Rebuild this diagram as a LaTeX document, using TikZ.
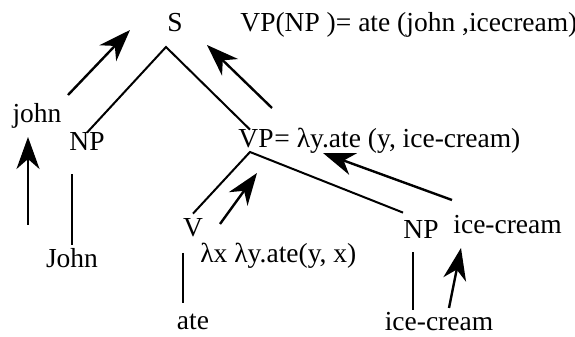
\documentclass[tikz,border=0pt]{standalone}
\usepackage{fontspec}
\setmainfont{Liberation Serif}
\usetikzlibrary{arrows.meta}

\begin{document}
\begin{tikzpicture}[
  x=0.5pt, y=-0.5pt,
  lbl/.style = {inner sep=0pt, font=\rmfamily\fontsize{13.75}{16}\selectfont},
  br/.style  = {draw=black, line width=1pt},
  up/.style  = {draw=black, line width=1.2pt,
                -{Stealth[length=16pt, width=11.5pt, inset=5pt]}},
]
\useasboundingbox (0,0) rectangle (575,337);

% tree labels
\node[lbl, anchor=base]      (S)     at (175,32)  {S};
\node[lbl, anchor=base west] (VPNP)  at (240,32)  {VP(NP )= ate (john ,icecream)};
\node[lbl, anchor=base]      (john)  at (37,122)  {john};
\node[lbl, anchor=base]      (NPj)   at (87,151)  {NP};
\node[lbl, anchor=base]      (VP)    at (256,148) {VP};
\node[lbl, anchor=base west] (VPsem) at (VP.base east) {= λy.ate (y, ice-cream)};
\node[lbl, anchor=base]      (John)  at (72,268)  {John};
\node[lbl, anchor=base]      (V)     at (193,236) {V};
\node[lbl, anchor=base west] (Vsem)  at (200,263) {λx λy.ate(y, x)};
\node[lbl, anchor=base]      (ate)   at (193,329) {ate};
\node[lbl, anchor=base]      (NPi)   at (421,239) {NP};
\node[lbl, anchor=base west] (icr)   at (453,234) {ice-cream};
\node[lbl, anchor=base]      (icb)   at (439,331) {ice-cream};

% branch points
\coordinate (Sb)  at (166,47);
\coordinate (VPb) at (250,152);

\draw[br] (NPj.north) -- (Sb) -- ([xshift=-3pt]VP.north);
\draw[br] ([yshift=2pt]V.north) -- (VPb) -- ([yshift=4pt]NPi.north west);
\draw[br, shorten <=11.5pt, shorten >=2pt]
  (NPj.south -| John.north) -- (John.north);
\draw[br, shorten <=8pt, shorten >=5pt]
  ([xshift=-5pt]V.south) -- ([xshift=-5pt]V.south |- ate.north);
\draw[br, shorten <=6.5pt, shorten >=1pt]
  ([xshift=-4pt]NPi.south) -- ([xshift=-4pt]NPi.south |- icb.north);

% meaning flows upward
\coordinate (u1a) at (68,95);   \coordinate (u1b) at (130,30);
\coordinate (u2a) at (28,225);  \coordinate (u2b) at (28,137);
\coordinate (u3a) at (272,108); \coordinate (u3b) at (207,45);
\coordinate (u4a) at (220,224); \coordinate (u4b) at (257,173);
\coordinate (u5a) at (452,200); \coordinate (u5b) at (323,153);
\coordinate (u6a) at (449,308); \coordinate (u6b) at (461,248);

\foreach \i in {1,...,6}{
  \draw[up] (u\i a) -- (u\i b);
}

\end{tikzpicture}
\end{document}
